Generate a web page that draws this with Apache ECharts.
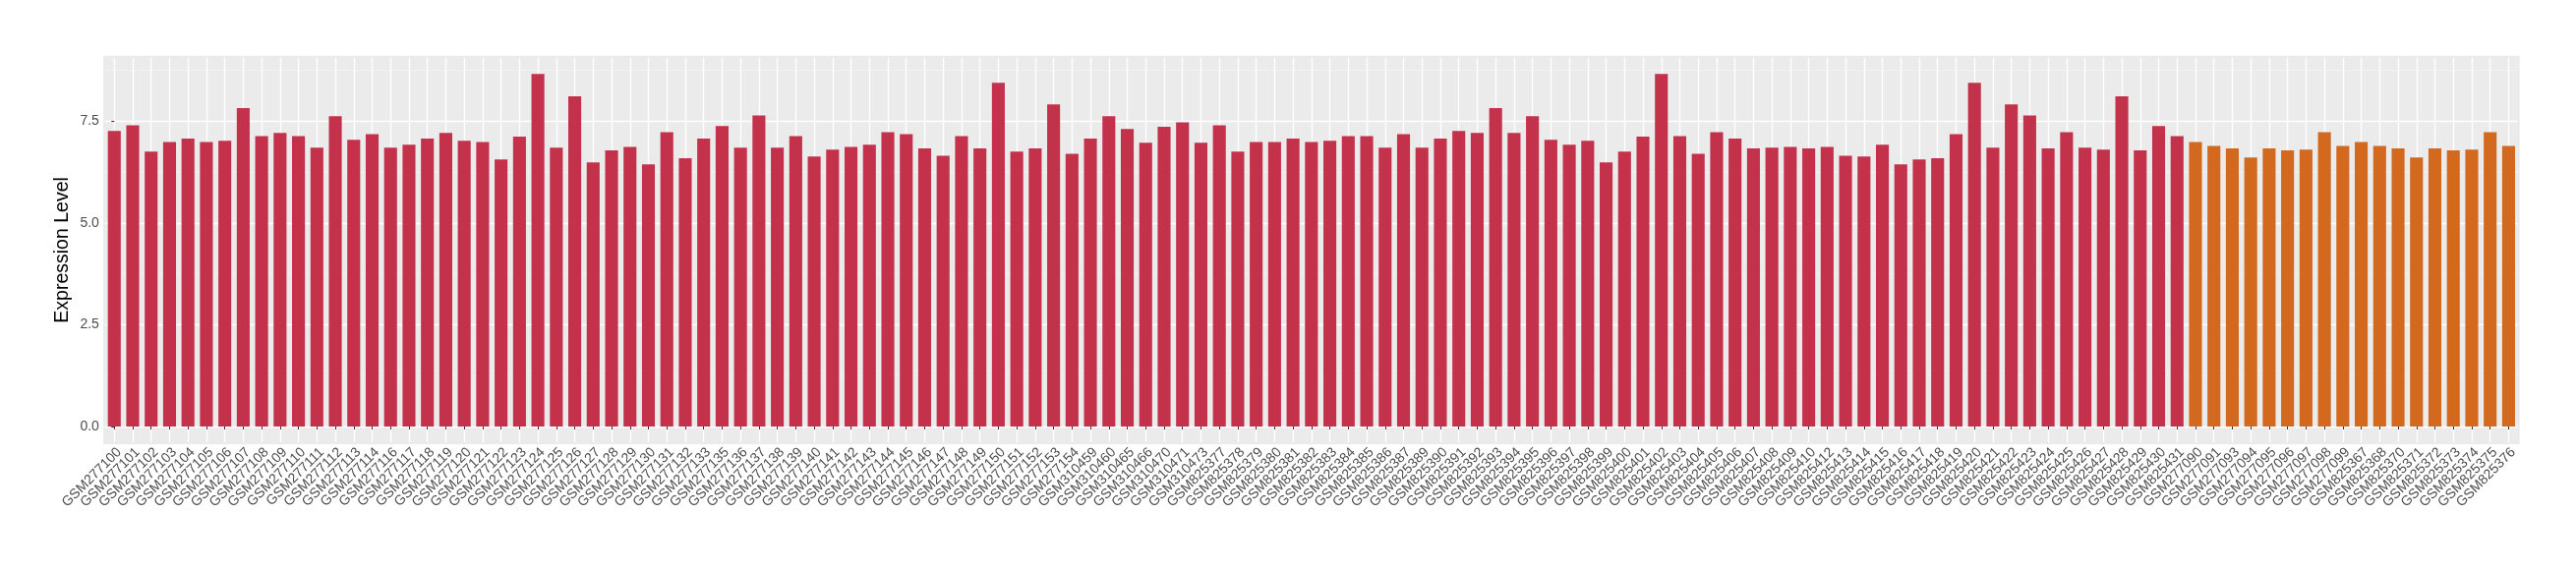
<!DOCTYPE html>
<html>
<head>
<meta charset="utf-8">
<script src="https://cdn.jsdelivr.net/npm/echarts@6/dist/echarts.min.js"></script>
<style>
html,body{margin:0;padding:0;background:#fff;}
#chart{width:2620px;height:580px;}
</style>
</head>
<body>
<div id="chart"></div>
<script>
const redSamples = ["GSM277100","GSM277101","GSM277102","GSM277103","GSM277104","GSM277105","GSM277106","GSM277107","GSM277108","GSM277109","GSM277110","GSM277111","GSM277112","GSM277113","GSM277114","GSM277116","GSM277117","GSM277118","GSM277119","GSM277120","GSM277121","GSM277122","GSM277123","GSM277124","GSM277125","GSM277126","GSM277127","GSM277128","GSM277129","GSM277130","GSM277131","GSM277132","GSM277133","GSM277135","GSM277136","GSM277137","GSM277138","GSM277139","GSM277140","GSM277141","GSM277142","GSM277143","GSM277144","GSM277145","GSM277146","GSM277147","GSM277148","GSM277149","GSM277150","GSM277151","GSM277152","GSM277153","GSM277154","GSM310459","GSM310460","GSM310465","GSM310466","GSM310470","GSM310471","GSM310473","GSM825377","GSM825378","GSM825379","GSM825380","GSM825381","GSM825382","GSM825383","GSM825384","GSM825385","GSM825386","GSM825387","GSM825389","GSM825390","GSM825391","GSM825392","GSM825393","GSM825394","GSM825395","GSM825396","GSM825397","GSM825398","GSM825399","GSM825400","GSM825401","GSM825402","GSM825403","GSM825404","GSM825405","GSM825406","GSM825407","GSM825408","GSM825409","GSM825410","GSM825412","GSM825413","GSM825414","GSM825415","GSM825416","GSM825417","GSM825418","GSM825419","GSM825420","GSM825421","GSM825422","GSM825423","GSM825424","GSM825425","GSM825426","GSM825427","GSM825428","GSM825429","GSM825430","GSM825431"];
const redValues = [7.26,7.40,6.75,6.99,7.07,6.99,7.02,7.82,7.13,7.21,7.13,6.85,7.62,7.04,7.18,6.85,6.92,7.07,7.21,7.02,6.99,6.56,7.12,8.66,6.85,8.11,6.49,6.78,6.87,6.44,7.23,6.59,7.07,7.38,6.85,7.64,6.85,7.13,6.63,6.80,6.87,6.92,7.23,7.18,6.83,6.65,7.13,6.83,8.44,6.75,6.83,7.91,6.70,7.07,7.62,7.31,6.97,7.36,7.47,6.97,7.40,6.75,6.99,6.99,7.07,6.99,7.02,7.13,7.13,6.85,7.18,6.85,7.07,7.26,7.21,7.82,7.21,7.62,7.04,6.92,7.02,6.49,6.75,7.12,8.66,7.13,6.70,7.23,7.07,6.83,6.85,6.87,6.83,6.87,6.65,6.63,6.92,6.44,6.56,6.59,7.18,8.44,6.85,7.91,7.64,6.83,7.23,6.85,6.80,8.11,6.78,7.38,7.13];
const orangeSamples = ["GSM277090","GSM277091","GSM277093","GSM277094","GSM277095","GSM277096","GSM277097","GSM277098","GSM277099","GSM825367","GSM825368","GSM825370","GSM825371","GSM825372","GSM825373","GSM825374","GSM825375","GSM825376"];
const orangeValues = [6.99,6.89,6.83,6.61,6.83,6.78,6.80,7.23,6.89,6.99,6.89,6.83,6.61,6.83,6.78,6.80,7.23,6.89];
const yMajorTicks = [0, 2.5, 5, 7.5];
const yMinorTicks = [1.25, 3.75, 6.25, 8.75];
const yTitle = "Expression Level";

const categories = redSamples.concat(orangeSamples);
const redSeries = redValues.concat(orangeSamples.map(() => '-'));
const orangeSeries = redSamples.map(() => '-').concat(orangeValues);
const categoryPositions = categories.map((_, i) => i);

const FONT = "'Liberation Sans', Arial, Helvetica, sans-serif";
const chart = echarts.init(document.getElementById('chart'), null, {renderer: 'canvas'});
chart.setOption({
  animation: false,
  backgroundColor: '#ffffff',
  grid: {
    left: 106.9, right: 59.2, top: 58.7, bottom: 129.9,
    show: true, backgroundColor: '#EBEBEB', borderColor: '#EBEBEB', borderWidth: 3.8,
    containLabel: false, outerBoundsMode: 'none'
  },
  xAxis: [{
    type: 'category',
    data: categories,
    boundaryGap: true,
    axisLine: {show: false},
    axisTick: {show: true, interval: 0, alignWithLabel: true, length: 3, lineStyle: {color: '#333333', width: 1}},
    splitLine: {show: false},
    axisLabel: {
      interval: 0, rotate: 45, fontSize: 14, color: '#4D4D4D', fontFamily: FONT,
      align: 'right', verticalAlign: 'top', margin: 3, hideOverlap: false
    }
  }, {
    type: 'value',
    min: -0.5, max: categories.length - 0.5,
    position: 'bottom',
    axisLine: {show: false},
    axisTick: {show: false, customValues: categoryPositions},
    axisLabel: {show: false, customValues: categoryPositions},
    splitLine: {show: true, lineStyle: {color: '#FFFFFF', width: 1.4}}
  }],
  yAxis: [{
    type: 'value',
    min: -0.389, max: 9.059,
    position: 'left',
    name: yTitle,
    nameLocation: 'middle',
    nameRotate: 90,
    nameGap: 33,
    nameMoveOverlap: false,
    nameTextStyle: {fontSize: 19.5, color: '#000000', fontFamily: FONT},
    axisLine: {show: false},
    axisTick: {show: true, length: 3, customValues: yMajorTicks, lineStyle: {color: '#333333', width: 1}},
    axisLabel: {customValues: yMajorTicks, fontSize: 14, color: '#4D4D4D', fontFamily: FONT, margin: 6,
      formatter: v => Number(v).toFixed(1)},
    splitLine: {show: true, lineStyle: {color: '#FFFFFF', width: 1.4}}
  }, {
    type: 'value',
    min: -0.389, max: 9.059,
    position: 'left',
    axisLine: {show: false},
    axisTick: {show: false, customValues: yMinorTicks},
    axisLabel: {show: false, customValues: yMinorTicks},
    splitLine: {show: true, lineStyle: {color: '#F5F5F5', width: 0.7}}
  }],
  series: [{
    type: 'bar', data: redSeries, xAxisIndex: 0, yAxisIndex: 0,
    itemStyle: {color: '#C3314A'},
    barCategoryGap: '30%', barGap: '-100%'
  }, {
    type: 'bar', data: orangeSeries, xAxisIndex: 0, yAxisIndex: 0,
    itemStyle: {color: '#D2691E'},
    barCategoryGap: '30%', barGap: '-100%'
  }]
});
</script>
</body>
</html>
